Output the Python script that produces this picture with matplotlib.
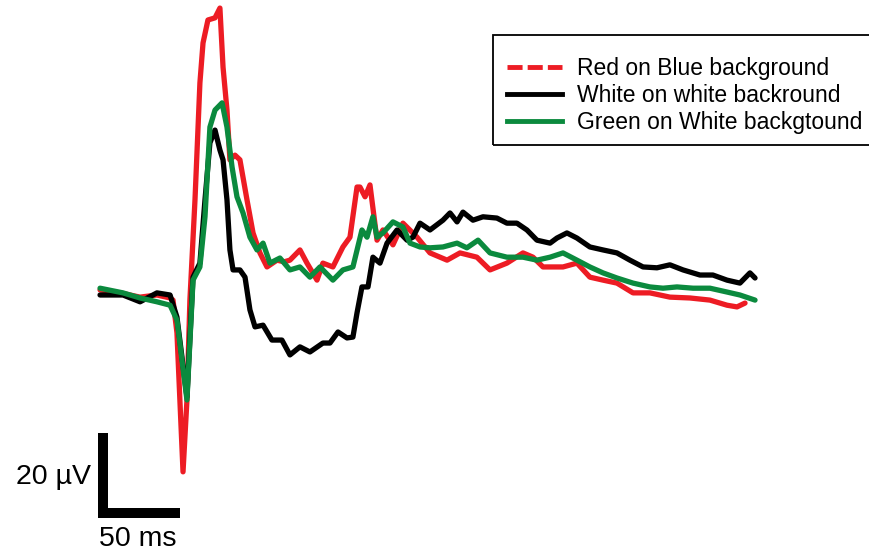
"""
Evoked response traces for three colour/background conditions, with scale bar.
"""

import matplotlib.pyplot as plt
from matplotlib.lines import Line2D
from matplotlib.patches import Rectangle

plt.rcParams["font.family"] = ["Liberation Sans", "DejaVu Sans"]

# Red on Blue background (time in ms, amplitude in µV)
red_t = [-45.7, -33.5, -21.3, -11.0, -3.0, -1.2, 1.2, 4.9, 7.3, 9.1, 12.2, 15.2,
         17.1, 20.1, 24.4, 27.4, 29.3, 31.7, 33.5, 36.6, 39.6, 43.9, 47.6, 51.8,
         56.1, 62.2, 66.5, 70.1, 76.2, 80.5, 86.6, 90.2, 96.3, 102.4, 106.7,
         111.0, 112.8, 115.9, 118.9, 123.2, 126.8, 132.9, 139.0, 147.6, 155.5,
         165.9, 173.8, 184.1, 192.1, 202.4, 212.2, 218.3, 224.4, 236.6, 245.1,
         253.0, 261.0, 269.5, 279.3, 289.6, 301.8, 314.0, 326.2, 336.6, 342.7,
         347.6]
red_v = [1.2, 0.5, -0.5, 0.0, -0.7, -1.2, -8.9, -41.6, -24.7, -1.2, 22.4, 49.9,
         59.3, 64.7, 65.2, 67.5, 53.6, 43.5, 31.8, 32.9, 31.8, 22.4, 14.6, 9.9,
         6.6, 8.2, 7.8, 8.2, 10.6, 7.5, 3.5, 7.5, 6.6, 11.3, 13.6,
         25.4, 25.4, 23.1, 25.9, 12.9, 15.3, 11.8, 16.9, 13.6, 9.9,
         8.2, 9.9, 8.9, 5.9, 7.5, 9.9, 8.9, 6.6, 6.6, 7.5,
         4.2, 3.5, 2.8, 0.5, 0.5, -0.5, -0.7, -1.2, -2.4, -2.8,
         -1.9]

# White on white background
black_t = [-45.7, -31.7, -21.3, -11.0, -3.0, 1.2, 7.3, 11.0, 15.2, 18.3, 21.3,
           24.4, 27.4, 29.3, 31.7, 33.5, 35.4, 39.6, 42.7, 45.7, 48.8, 53.7,
           59.1, 65.2, 70.1, 76.2, 82.3, 90.2, 94.5, 99.4, 104.9, 108.5, 111.0,
           114.0, 117.7, 120.7, 125.0, 129.3, 135.4, 141.5, 145.1, 149.4, 155.5,
           163.4, 167.7, 172.0, 175.6, 181.7, 187.8, 196.3, 202.4, 208.5, 214.6,
           220.7, 228.7, 232.9, 239.0, 245.1, 253.0, 261.0, 269.5, 277.4, 285.4,
           293.9, 301.8, 309.8, 320.1, 328.0, 336.6, 344.5, 350.6, 353.7]
black_v = [0.0, 0.0, -1.6, 0.5, 0.0, -5.2, -24.0, 4.2, 7.5, 22.4, 35.8,
           38.8, 34.1, 31.8, 22.4, 10.6, 5.9, 5.9, 4.2, -3.5, -7.5, -7.1,
           -10.6, -10.6, -14.1, -12.2, -13.4, -11.3, -11.3, -8.7, -10.1, -9.9, -4.2,
           1.9, 1.9, 8.9, 7.5, 12.2, 15.3, 12.9, 13.6, 16.9, 15.3,
           17.6, 19.3, 17.2, 19.5, 17.6, 18.4, 18.1, 16.9, 16.9, 15.3,
           12.9, 12.2, 13.4, 14.6, 13.4, 11.3, 10.6, 9.9, 8.2, 6.6,
           6.4, 7.1, 5.9, 4.7, 4.7, 3.5, 2.8, 5.2, 4.0]

# Green on White background
green_t = [-45.7, -31.7, -21.3, -11.0, -3.0, 1.2, 7.3, 11.0, 15.2, 18.3, 21.3,
           24.4, 28.7, 31.7, 34.8, 37.8, 41.5, 45.7, 50.0, 53.7, 57.9, 64.0,
           70.1, 76.2, 82.3, 88.4, 96.3, 102.4, 108.5, 114.0, 117.1, 120.7,
           123.2, 126.8, 132.9, 139.0, 143.3, 149.4, 155.5, 163.4, 172.0, 178.0,
           184.8, 192.1, 202.4, 212.2, 220.7, 228.7, 236.6, 245.1, 253.0, 261.0,
           269.5, 279.3, 289.6, 297.6, 306.1, 315.9, 326.2, 336.6, 344.5, 353.7]
green_v = [1.6, 0.5, -0.7, -1.6, -2.4, -5.9, -24.7, 3.5, 6.6, 18.4, 39.5,
           43.5, 45.2, 39.5, 30.1, 23.1, 19.3, 13.6, 10.6, 12.2, 7.5, 8.7,
           5.9, 6.6, 4.2, 6.6, 3.5, 5.9, 6.6, 15.3, 13.6, 18.4,
           13.6, 14.6, 17.2, 16.0, 12.2, 11.3, 11.1, 11.3, 12.2, 11.1,
           12.9, 9.9, 8.9, 8.9, 8.2, 8.9, 9.9, 8.2, 6.6, 5.2,
           4.0, 2.8, 1.9, 1.6, 1.9, 1.6, 1.6, 0.7, 0.0, -1.2]

labels = ["Red on Blue background", "White on white backround",
          "Green on White backgtound"]
colors = ["#ed1c24", "#000000", "#0b8a3e"]

# scale bar size
bar_ms = 50
bar_uv = 20

W, H = 870, 556


def main():
    fig = plt.figure(figsize=(W / 100, H / 100), dpi=100)
    ax = fig.add_axes([0, 0, 1, 1])
    ax.set_xlim(-106.7, 423.8)
    ax.set_ylim(-61.4, 69.4)
    ax.axis("off")

    kw = dict(lw=3.8, solid_joinstyle="round", solid_capstyle="round")
    ax.plot(red_t, red_v, color=colors[0], zorder=2, **kw)
    ax.plot(black_t, black_v, color=colors[1], zorder=3, **kw)
    ax.plot(green_t, green_v, color=colors[2], zorder=4, **kw)

    # scale bar: L shape, horizontal starts at outer edge of the vertical
    x0, y0 = -43.9, -51.3
    half_t, half_v = 3.0, 1.1
    bar_kw = dict(color="black", lw=7.2, solid_capstyle="butt")
    ax.plot([x0, x0], [y0 - half_v, y0 - half_v + bar_uv], **bar_kw)
    ax.plot([x0 - half_t, x0 - half_t + bar_ms], [y0, y0], **bar_kw)
    ax.text(x0 - 7.5, y0 + bar_uv / 2 - 1.4, f"{bar_uv} µV", fontsize=20.5,
            ha="right", va="center")
    ax.text(x0 + bar_ms / 2 - 3.5, y0 - 6.0, f"{bar_ms} ms", fontsize=20.5,
            ha="center", va="center")

    # legend with a hand-placed frame that runs off the right edge
    fig.patches.append(Rectangle((493 / W, 1 - 145 / H), 390 / W, 110 / H,
                                 transform=fig.transFigure, fill=False,
                                 edgecolor="black", lw=1.3))
    handles = [Line2D([], [], color=colors[0], lw=3.5, ls=(0, (3.1, 1.05))),
               Line2D([], [], color=colors[1], lw=3.5),
               Line2D([], [], color=colors[2], lw=3.5)]
    fig.legend(handles, labels, loc="upper left",
               bbox_to_anchor=(507 / W, 1 - 57 / H),
               borderaxespad=0, borderpad=0, fontsize=16.5,
               handlelength=2.4, handletextpad=0.65, labelspacing=0.18,
               frameon=False)

    fig.savefig("out.png", dpi=100)
    plt.close(fig)


if __name__ == "__main__":
    main()
